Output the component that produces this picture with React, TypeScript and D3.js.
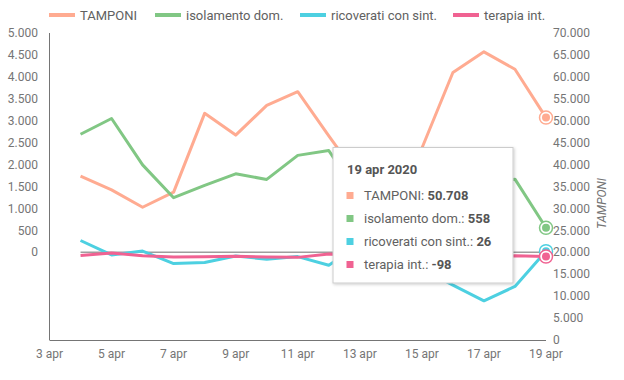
import React from "react";
import * as d3 from "d3";

const days = [4, 5, 6, 7, 8, 9, 10, 11, 12, 13, 14, 15, 16, 17, 18, 19];
const tamponi = [37375, 34237, 30271, 33713, 51680, 46720, 53495, 56609, 46518, 36717, 26779, 43715, 60999, 65705, 61725, 50708];
const isolamento = [2691, 3050, 1993, 1244, 1527, 1789, 1661, 2210, 2319, 1270, 761, 1602, 2082, 1586, 1667, 558];
const ricoverati = [269, -61, 27, -258, -233, -86, -157, -98, -297, 176, -12, -368, -750, -1107, -779, 26];
const terapia = [-74, -17, -79, -106, -99, -88, -108, -116, -38, -83, -74, -107, -143, -124, -79, -98];

const xTicks = [3, 5, 7, 9, 11, 13, 15, 17, 19];
const leftTicks = [0, 500, 1000, 1500, 2000, 2500, 3000, 3500, 4000, 4500, 5000];
const rightTicks = [0, 5000, 10000, 15000, 20000, 25000, 30000, 35000, 40000, 45000, 50000, 55000, 60000, 65000, 70000];

const seriesNames = ["TAMPONI", "isolamento dom.", "ricoverati con sint.", "terapia int."];
const seriesColors = ["#ffab91", "#81c784", "#4dd0e1", "#f06292"];
const tooltipTitle = "19 apr 2020";
const rightTitle = "TAMPONI";

const locale = d3.formatLocale({ decimal: ",", thousands: ".", grouping: [3], currency: ["€", ""], minus: "-" });
const fmt = locale.format(",d");

export default function App() {
  const W = 624, H = 380;
  const x = d3.scaleLinear().domain([3, 19]).range([49.5, 546]);
  const yL = d3.scaleLinear().domain([-2000, 5000]).range([340, 33]);
  const yR = d3.scaleLinear().domain([0, 70000]).range([340, 33]);
  const font = "Roboto, 'Noto Sans', sans-serif";

  const series = [
    { vals: tamponi, y: yR },
    { vals: isolamento, y: yL },
    { vals: ricoverati, y: yL },
    { vals: terapia, y: yL },
  ];
  const lineGen = (vals: number[], y: d3.ScaleLinear<number, number>) =>
    d3.line<number>().x((_, i) => x(days[i])).y((v) => y(v))(vals) || "";

  const lastIdx = days.length - 1;
  const legendX = [49, 155, 300, 453];

  const tipX = 333, tipY = 147.5, tipW = 180, tipH = 135.5;
  const rowY = [195.5, 218.5, 241.5, 264.5];

  return (
    <svg width={W} height={H} style={{ position: "absolute", left: 0, top: 0 }} fontFamily={font}>
      <defs>
        <filter id="shadow" x="-10%" y="-10%" width="130%" height="130%">
          <feDropShadow dx="1" dy="1" stdDeviation="1.5" floodColor="#000" floodOpacity="0.2" />
        </filter>
      </defs>
      <rect width={W} height={H} fill="#fff" />
      {/* legend */}
      {seriesNames.map((n, i) => (
        <g key={n}>
          <line x1={legendX[i]} x2={legendX[i] + 26} y1={15} y2={15} stroke={seriesColors[i]} strokeWidth={4} />
          <text x={legendX[i] + 31} y={15} dy="0.35em" fontSize={13} fill="#616161">{n}</text>
        </g>
      ))}
      {/* left axis labels */}
      {leftTicks.map((t) => (
        <text key={t} x={38} y={yL(t)} dy="0.35em" textAnchor="end" fontSize={12} fill="#757575">{fmt(t)}</text>
      ))}
      {/* right axis labels */}
      {rightTicks.map((t) => (
        <text key={t} x={553} y={yR(t)} dy="0.35em" textAnchor="start" fontSize={12} fill="#757575">{fmt(t)}</text>
      ))}
      <text transform={`translate(602,${(yR(0) + yR(70000)) / 2 + 17}) rotate(-90)`} textAnchor="middle" dy="0.35em" fontSize={12} fontStyle="italic" fill="#757575">{rightTitle}</text>
      {/* x labels */}
      {xTicks.map((t) => (
        <text key={t} x={x(t)} y={354} dy="0.35em" textAnchor="middle" fontSize={12} fill="#757575">{`${t} apr`}</text>
      ))}
      {/* axes */}
      <line x1={49.5} x2={49.5} y1={33} y2={340} stroke="#757575" strokeWidth={1} />
      <line x1={49.5} x2={546} y1={340.5} y2={340.5} stroke="#757575" strokeWidth={1} />
      <line x1={x(days[0])} x2={546} y1={yL(0)} y2={yL(0)} stroke="#9e9e9e" strokeWidth={1.5} />
      {/* lines */}
      {series.map((s, i) => (
        <path key={i} d={lineGen(s.vals, s.y)} fill="none" stroke={seriesColors[i]} strokeWidth={3} strokeLinejoin="round" />
      ))}
      {/* tooltip */}
      <rect x={tipX} y={tipY} width={tipW} height={tipH} fill="#fff" stroke="#cccccc" strokeWidth={1} filter="url(#shadow)" />
      <text x={347} y={169} dy="0.35em" fontSize={13} fontWeight="bold" fill="#555">{tooltipTitle}</text>
      {seriesNames.map((n, i) => {
        const v = series[i].vals[lastIdx];
        return (
          <g key={n}>
            <rect x={346.5} y={rowY[i] - 3.5} width={7} height={7} fill={seriesColors[i]} />
            <text x={364} y={rowY[i]} dy="0.35em" fontSize={13} fill="#616161">
              {n}: <tspan fontWeight="bold" fill="#555">{fmt(v)}</tspan>
            </text>
          </g>
        );
      })}
      {/* focus markers */}
      {series.map((s, i) => (
        <g key={i}>
          <circle cx={x(days[lastIdx])} cy={s.y(s.vals[lastIdx])} r={6.5} fill="#fff" stroke={seriesColors[i]} strokeWidth={1.5} />
          <circle cx={x(days[lastIdx])} cy={s.y(s.vals[lastIdx])} r={4} fill={seriesColors[i]} />
        </g>
      ))}
    </svg>
  );
}
